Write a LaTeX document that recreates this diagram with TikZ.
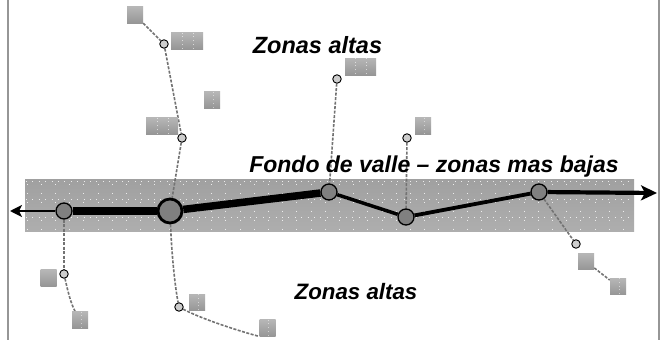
\documentclass[tikz,border=0pt]{standalone}
\usepackage{fontspec}
\setmainfont{Liberation Sans}
\usetikzlibrary{arrows.meta}
\pgfdeclarelayer{bg}
\pgfdeclarelayer{lines}
\pgfsetlayers{bg,lines,main}
\definecolor{nodegray}{RGB}{128,128,128}
\definecolor{smallgray}{RGB}{205,205,205}
\definecolor{boxtop}{RGB}{182,182,182}
\definecolor{boxbot}{RGB}{150,150,150}
\definecolor{bandtop}{RGB}{160,160,160}
\definecolor{bandbot}{RGB}{174,174,174}
\definecolor{dashgray}{RGB}{115,115,115}
\definecolor{framegray}{RGB}{150,150,150}
\tikzset{
  bignode/.style={circle, draw=black, fill=nodegray, line width=1.3pt, minimum size=16pt, inner sep=0pt},
  hubnode/.style={bignode, minimum size=24pt, line width=2.8pt},
  smallnode/.style={circle, draw=black, fill=smallgray, line width=0.9pt, minimum size=8.5pt, inner sep=0pt},
  graybox/.style={rectangle, top color=boxtop, bottom color=boxbot, draw=none, inner sep=0pt, minimum width=16pt, minimum height=16.5pt},
  widebox/.style={graybox, minimum width=32pt},
  conn/.style={draw=dashgray, line width=1.6pt, dash pattern=on 3pt off 1.5pt},
  zonetext/.style={font=\fontsize{23.5}{26}\selectfont\bfseries\itshape, inner sep=0pt, anchor=base},
  flowline/.style={draw=black, line cap=butt},
}
\begin{document}
\begin{tikzpicture}[x=1pt, y=-1pt]
\useasboundingbox (0,0) rectangle (667,340);
\begin{pgfonlayer}{bg}
  \fill[white] (0,0) rectangle (667,340);
  \draw[framegray, line width=1.2pt] (8,0) -- (8,340);
  \draw[framegray, line width=1.2pt] (659,0) -- (659,340);
  % valley band
  \shade[top color=bandtop, bottom color=bandbot] (25,179) rectangle (634,231);
  \foreach \yy in {181,199,217} {
    \draw[white, opacity=0.8, line width=0.9pt, dash pattern=on 0.9pt off 5.5pt] (26,\yy) -- (634,\yy);
  }
  \foreach \xx in {27,41.2,...,633} {
    \draw[white, opacity=0.8, line width=0.9pt, dash pattern=on 0.9pt off 8pt] (\xx,184) -- (\xx,231);
  }
\end{pgfonlayer}

% texts
\node[zonetext] (t1) at (317.5,53) {Zonas altas};
\node[zonetext, font=\fontsize{23}{26}\selectfont\bfseries\itshape] (t2) at (434,172) {Fondo de valle -- zonas mas bajas};
\node[zonetext, font=\fontsize{22.3}{26}\selectfont\bfseries\itshape] (t3) at (356,299) {Zonas altas};

% main valley nodes
\node[bignode] (n1) at (64,211) {};
\node[hubnode] (n2) at (170,211) {};
\node[bignode] (n3) at (329,192) {};
\node[bignode] (n4) at (406,217) {};
\node[bignode] (n5) at (539,192) {};
\coordinate (la) at (10,211);
\coordinate (ra) at (657,193);

% small nodes
\node[smallnode] (s1) at (164,44) {};
\node[smallnode] (s2) at (182,138) {};
\node[smallnode] (s3) at (337,79) {};
\node[smallnode] (s4) at (407,138) {};
\node[smallnode] (s5) at (64,274) {};
\node[smallnode] (s6) at (179,307) {};
\node[smallnode] (s7) at (576,244) {};

% gray boxes
\node[graybox] (b1) at (135,15) {};
\node[widebox] (b2) at (187,41) {};
\node[graybox] (b3) at (212,100) {};
\node[widebox] (b4) at (162,126) {};
\node[widebox, minimum width=31pt, minimum height=17pt] (b5) at (360.5,66.5) {};
\node[graybox] (b6) at (423,126) {};
\node[graybox] (b7) at (48.5,278) {};
\node[graybox] (b8) at (80,320) {};
\node[graybox] (b9) at (197,302.5) {};
\node[graybox] (b10) at (267.5,328) {};
\node[graybox] (b11) at (586,261.5) {};
\node[graybox] (b12) at (618,286.5) {};

% faint dotted marks inside boxes
\foreach \bx in {b2,b4,b5} {
  \draw[white, opacity=0.6, line width=0.8pt, dash pattern=on 0.8pt off 3pt] ([xshift=-5pt]\bx.north) -- ([xshift=-5pt]\bx.south);
  \draw[white, opacity=0.6, line width=0.8pt, dash pattern=on 0.8pt off 3pt] ([xshift=6pt]\bx.north) -- ([xshift=6pt]\bx.south);
}
\foreach \bx in {b3,b6,b8,b9,b10,b12} {
  \draw[white, opacity=0.5, line width=0.8pt, dash pattern=on 0.8pt off 3pt] ([xshift=1pt]\bx.north) -- ([xshift=1pt]\bx.south);
}

\begin{pgfonlayer}{lines}
  % valley path
  \draw[flowline, line width=2pt, -{Stealth[length=12pt, width=12pt, inset=3pt]}] (n1) -- (la);
  \draw[flowline, line width=7.5pt] (n1) -- (n2);
  \draw[flowline, line width=7.5pt] (n2) -- (n3);
  \draw[flowline, line width=3.5pt] (n3) -- (n4);
  \draw[flowline, line width=3.8pt] (n4) -- (n5);
  \draw[flowline, line width=4.2pt, -{Stealth[length=16pt, width=15pt, inset=4pt]}] (n5) -- (ra);
  % dashed branches
  \draw[conn] (b1) -- (s1);
  \draw[conn] (s1) -- (s2);
  \draw[conn] (s2) -- (n2);
  \draw[conn] (n2) .. controls (172,262) and (176,292) .. (s6);
  \draw[conn] (s6) .. controls (200,318) and (232,329) .. (b10.south west);
  \draw[conn] (s3) -- (n3);
  \draw[conn] (s4) -- (n4);
  \draw[conn] (n1) -- (s5);
  \draw[conn] (s5) .. controls (68,292) and (71,304) .. (b8);
  \draw[conn] (n5) -- (s7);
  \draw[conn] (b11) -- (b12);
\end{pgfonlayer}
\end{tikzpicture}
\end{document}
